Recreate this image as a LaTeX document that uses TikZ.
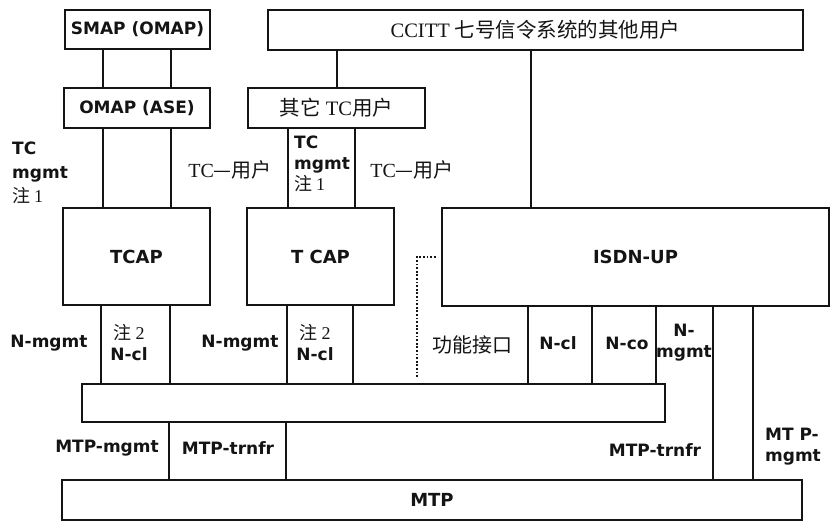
\documentclass[tikz,border=0pt]{standalone}
\usepackage{fontspec}
\setmainfont{Liberation Serif}
\setsansfont{DejaVu Sans}
\newfontfamily\cjk{Noto Sans CJK SC}
\usetikzlibrary{positioning,calc}
\definecolor{ink}{HTML}{141414}
\newcommand{\zh}[1]{{\cjk\mdseries #1}}
\newcommand{\zhu}[1]{{\cjk\mdseries\fontsize{18pt}{18pt}\selectfont 注\ \rmfamily\mdseries #1}}
\tikzset{
  box/.style={draw=ink, line width=2pt, fill=white, inner sep=0pt, text=ink,
    font=\sffamily\bfseries\fontsize{18pt}{20pt}\selectfont},
  sbox/.style={box, font=\sffamily\bfseries\fontsize{17pt}{20pt}\selectfont},
  rbox/.style={box, font=\rmfamily\fontsize{20.5pt}{24pt}\selectfont},
  link/.style={draw=ink, line width=1.6pt},
  dots/.style={draw=ink, line width=2.4pt, dash pattern=on 1.8pt off 1.8pt},
  lab/.style={text=ink, inner sep=0pt, align=center,
    font=\sffamily\bfseries\fontsize{17pt}{21pt}\selectfont},
  rlab/.style={text=ink, inner sep=0pt, font=\rmfamily\fontsize{20pt}{22pt}\selectfont},
}

\begin{document}
\begin{tikzpicture}[x=1pt, y=-1pt]
  \useasboundingbox[fill=white] (0,0) rectangle (831,523);
  % boxes
  \node[sbox, minimum width=145pt, minimum height=39pt] (smap) at (137.5,29.5) {SMAP (OMAP)};
  \node[sbox, minimum width=146pt, minimum height=40pt] (omap) at (137,108) {OMAP (ASE)};
  \node[rbox, minimum width=535pt, minimum height=40pt] (ccitt) at (535.5,30) {CCITT \zh{七号信令系统的其他用户}};
  \node[rbox, minimum width=177pt, minimum height=40pt] (tcu) at (336.5,108) {\zh{其它} TC\zh{用户}};
  \node[box, minimum width=147pt, minimum height=97pt] (tcap1) at (136.5,256.5) {TCAP};
  \node[box, minimum width=147pt, minimum height=97pt] (tcap2) at (320.5,256.5) {T CAP};
  \node[box, minimum width=387pt, minimum height=98pt] (isdn) at (635.5,257) {ISDN-UP};
  \node[box, minimum width=583pt, minimum height=38pt] (sccp) at (373.5,403) {};
  \node[box, minimum width=740pt, minimum height=40pt] (mtp) at (432,500) {MTP};

  % links
  \foreach \x in {103,171} {
    \draw[link] (\x,0 |- smap.south) -- (\x,0 |- omap.north);
    \draw[link] (\x,0 |- omap.south) -- (\x,0 |- tcap1.north);
  }
  \draw[link] (337,0 |- ccitt.south) -- (337,0 |- tcu.north);
  \draw[link] (531,0 |- ccitt.south) -- (531,0 |- isdn.north);
  \foreach \x in {288,355} \draw[link] (\x,0 |- tcu.south) -- (\x,0 |- tcap2.north);
  \foreach \x in {101,170} \draw[link] (\x,0 |- tcap1.south) -- (\x,0 |- sccp.north);
  \foreach \x in {287,353} \draw[link] (\x,0 |- tcap2.south) -- (\x,0 |- sccp.north);
  \foreach \x in {528,592,656} \draw[link] (\x,0 |- isdn.south) -- (\x,0 |- sccp.north);
  \foreach \x in {713,753} \draw[link] (\x,0 |- isdn.south) -- (\x,0 |- mtp.north);
  \foreach \x in {169,286} \draw[link] (\x,0 |- sccp.south) -- (\x,0 |- mtp.north);
  \coordinate (dotfoot) at (417,377);
  \draw[dots] (dotfoot) |- ([xshift=-5pt]isdn.west);

  % labels
  \node[lab, align=left, anchor=north west, font=\sffamily\bfseries\fontsize{17pt}{24pt}\selectfont]
    (tcmgmt1) at (12,142) {TC\\mgmt\\\zhu{1}};
  \node[lab, align=left, anchor=north west] (tcmgmt2) at (294,136) {TC\\mgmt\\\zhu{1}};
  \node[rlab] (tcuser1) at (230,170) {TC\zh{—用户}};
  \node[rlab] (tcuser2) at (412,170) {TC\zh{—用户}};
  \node[lab] (nmgmt1) at (49,343) {N-mgmt};
  \node[lab] (nmgmt2) at (240,343) {N-mgmt};
  \node[lab] (ncl1) at (129,343) {\zhu{2}\\N-cl};
  \node[lab] (ncl2) at (315,343) {\zhu{2}\\N-cl};
  \node[rlab] (func) at (472,345) {\zh{功能接口}};
  \node[lab] (ncl3) at (558,343) {N-cl};
  \node[lab] (nco) at (627,343) {N-co};
  \node[lab] (nmgmt3) at (684,343) {N-\\mgmt};
  \node[lab] (mtpmgmt1) at (107,448) {MTP-mgmt};
  \node[lab] (mtptr1) at (228,448) {MTP-trnfr};
  \node[lab] (mtptr2) at (655,450) {MTP-trnfr};
  \node[lab, align=left] (mtpmgmt2) at (793,447) {MT P-\\mgmt};
\end{tikzpicture}
\end{document}
